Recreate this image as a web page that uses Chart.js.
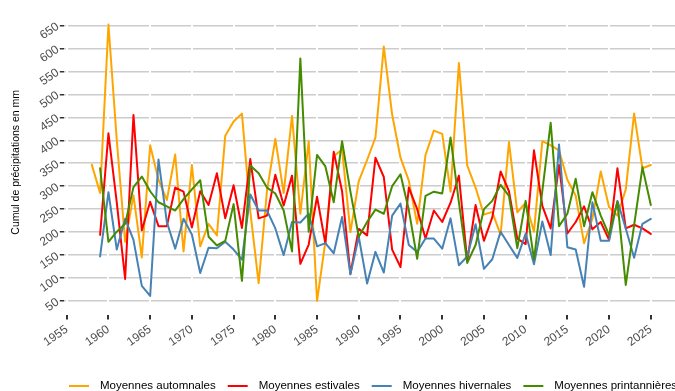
<!DOCTYPE html>
<html lang="fr">
<head>
<meta charset="utf-8">
<title>Cumul de précipitations saisonnier</title>
<script src="https://cdn.jsdelivr.net/npm/chart.js@4.4.1/dist/chart.umd.min.js"></script>
<style>
  html, body { margin: 0; padding: 0; background: #fff; overflow: hidden; }
  canvas { display: block; }
</style>
</head>
<body>
<canvas id="graphique" width="675" height="391"></canvas>
<script>
// Années et cumuls saisonniers (mm)
const annees = [1958, 1959, 1960, 1961, 1962, 1963, 1964, 1965, 1966, 1967,
  1968, 1969, 1970, 1971, 1972, 1973, 1974, 1975, 1976, 1977,
  1978, 1979, 1980, 1981, 1982, 1983, 1984, 1985, 1986, 1987,
  1988, 1989, 1990, 1991, 1992, 1993, 1994, 1995, 1996, 1997,
  1998, 1999, 2000, 2001, 2002, 2003, 2004, 2005, 2006, 2007,
  2008, 2009, 2010, 2011, 2012, 2013, 2014, 2015, 2016, 2017,
  2018, 2019, 2020, 2021, 2022, 2023, 2024, 2025];

const automnales = [347, 285, 652, 400, 179, 280, 145, 389, 314, 270,
  369, 158, 346, 169, 218, 193, 410, 441, 458, 245,
  89, 290, 403, 285, 453, 240, 398, 50, 180, 365,
  380, 200, 311, 357, 406, 604, 456, 362, 312, 218,
  368, 421, 414, 288, 568, 345, 297, 238, 244, 194,
  396, 243, 264, 201, 398, 389, 378, 314, 279, 176,
  229, 332, 254, 236, 293, 458, 339, 346];

const estivales = [null, 194, 415, 264, 98, 455, 204, 266, 213, 213,
  297, 288, 210, 289, 259, 328, 230, 302, 209, 359,
  230, 236, 325, 258, 323, 131, 173, 277, 175, 375,
  289, 109, 207, 193, 362, 320, 162, 124, 297, 250,
  186, 247, 222, 264, 323, 137, 259, 181, 232, 332,
  289, 186, 174, 378, 257, 208, 346, 197, 222, 256,
  206, 222, 183, 339, 208, 216, 208, 196];

const hivernales = [null, 147, 287, 162, 229, 183, 83, 61, 358, 222,
  164, 229, 195, 111, 166, 165, 179, 162, 140, 282,
  247, 247, 208, 150, 222, 221, 240, 169, 176, 154,
  233, 108, 190, 88, 157, 112, 236, 262, 172, 157,
  186, 186, 164, 230, 128, 147, 217, 120, 141, 201,
  172, 144, 197, 130, 223, 150, 391, 167, 162, 81,
  265, 181, 181, 268, 208, 144, 218, 229];

const printannieres = [null, 339, 179, 201, 218, 298, 321, 289, 265, 256,
  247, 272, 293, 313, 190, 171, 181, 261, 94, 345,
  328, 297, 284, 247, 158, 578, 201, 368, 343, 265,
  398, 288, 190, 222, 249, 240, 300, 326, 248, 142,
  279, 288, 284, 406, 265, 133, 172, 250, 268, 303,
  279, 165, 268, 140, 290, 438, 213, 240, 316, 213,
  287, 236, 194, 266, 85, 215, 341, 259];

const graduationsX = [1955, 1960, 1965, 1970, 1975, 1980, 1985, 1990,
  1995, 2000, 2005, 2010, 2015, 2020, 2025];
const graduationsY = [50, 100, 150, 200, 250, 300, 350, 400, 450, 500, 550, 600, 650];

function points(valeurs) {
  return annees.map((a, i) => ({ x: a, y: valeurs[i] }));
}

const police = '"Liberation Sans", Arial, sans-serif';

// légende horizontale sous le graphique
const legendeBas = {
  id: 'legendeBas',
  afterDraw(chart) {
    const ctx = chart.ctx;
    ctx.save();
    ctx.font = '11.5px ' + police;
    ctx.textBaseline = 'middle';
    let x = 69;
    const y = 386;
    chart.data.datasets.forEach(ds => {
      ctx.strokeStyle = ds.borderColor;
      ctx.lineWidth = 2;
      ctx.beginPath();
      ctx.moveTo(x, y);
      ctx.lineTo(x + 20, y);
      ctx.stroke();
      x += 31;
      ctx.fillStyle = '#000';
      ctx.fillText(ds.label, x, y);
      x += ctx.measureText(ds.label).width + 12;
    });
    ctx.restore();
  }
};

new Chart(document.getElementById('graphique'), {
  type: 'line',
  data: {
    datasets: [
      { label: 'Moyennes automnales', data: points(automnales), borderColor: '#FFA500', order: 3 },
      { label: 'Moyennes estivales', data: points(estivales), borderColor: '#FF0000', order: 2 },
      { label: 'Moyennes hivernales', data: points(hivernales), borderColor: '#4682B4', order: 1 },
      { label: 'Moyennes printannières', data: points(printannieres), borderColor: '#458B00', order: 0 }
    ]
  },
  options: {
    responsive: false,
    animation: false,
    layout: { padding: { top: 2.7, right: 0, bottom: 0, left: 0 } },
    elements: {
      line: { borderWidth: 2, tension: 0, borderJoinStyle: 'round', borderCapStyle: 'round' },
      point: { radius: 0 }
    },
    plugins: {
      legend: { display: false },
      tooltip: { enabled: false }
    },
    scales: {
      x: {
        type: 'linear',
        min: 1954.65,
        max: 2027.9,
        afterBuildTicks: s => { s.ticks = graduationsX.map(v => ({ value: v })); },
        afterFit: s => { s.height = 75.6; },
        border: { display: false },
        grid: { color: '#ffffff', lineWidth: 2, z: -1, tickColor: '#333333', tickLength: 4 },
        ticks: {
          color: '#4d4d4d',
          font: { family: police, size: 12 },
          minRotation: 35,
          maxRotation: 35,
          padding: 3,
          callback: v => String(v)
        }
      },
      y: {
        min: 18.7,
        max: 685.3,
        afterBuildTicks: s => { s.ticks = graduationsY.map(v => ({ value: v })); },
        afterFit: s => { s.width = 63.8; },
        border: { display: false },
        grid: { color: '#cccccc', lineWidth: 1.5, z: -2, tickColor: '#333333', tickLength: 4 },
        ticks: {
          color: '#4d4d4d',
          font: { family: police, size: 12 },
          minRotation: 35,
          maxRotation: 35,
          padding: 2,
          callback: v => String(v)
        },
        title: {
          display: true,
          text: 'Cumul de précipitations en mm',
          color: '#000',
          font: { family: police, size: 10.5 },
          padding: { top: 10, bottom: 0 }
        }
      }
    }
  },
  plugins: [legendeBas]
});
</script>
</body>
</html>
